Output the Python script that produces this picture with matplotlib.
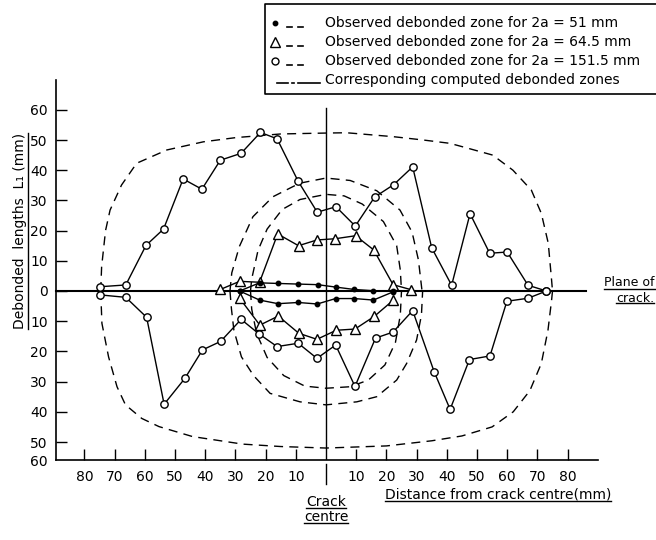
import matplotlib
matplotlib.use("Agg")
import matplotlib.pyplot as plt
from matplotlib.lines import Line2D

plt.rcParams['font.family'] = ['DejaVu Sans']

# ---------------- data (mm) ----------------
# Observed debonded zone, 2a = 51 mm (filled dots)
dot_x_up = [-28.6, -22.0, -15.9, -9.4, -2.8, 3.2, 9.4, 15.6, 22.2]
dot_y_up = [0.0, 2.7, 2.5, 2.3, 2.1, 1.3, 0.5, 0.1, 0.0]
dot_x_lo = [-28.6, -22.0, -15.9, -9.2, -2.9, 3.2, 9.4, 15.7, 22.2]
dot_y_lo = [0.0, -3.0, -4.2, -3.8, -4.3, -2.5, -2.5, -3.0, -0.3]

# Observed debonded zone, 2a = 64.5 mm (open triangles)
tri_x_up = [-35.0, -28.6, -22.0, -16.0, -9.1, -3.0, 3.0, 9.8, 15.8, 22.2, 28.3]
tri_y_up = [0.5, 3.2, 2.9, 18.9, 15.0, 16.9, 17.3, 18.3, 13.6, 2.1, 0.4]
tri_x_lo = [-28.6, -21.9, -15.8, -9.0, -3.0, 3.4, 9.6, 16.0, 22.2]
tri_y_lo = [-2.4, -11.3, -8.3, -14.0, -16.0, -13.0, -12.6, -8.4, -3.1]

# Observed debonded zone, 2a = 151.5 mm (open circles)
cir_x_up = [-75.0, -66.3, -59.6, -53.8, -47.3, -41.1, -35.0, -28.1, -21.7, -16.2, -9.2, -2.9,
            3.3, 9.7, 16.1, 22.4, 28.7, 35.0, 41.6, 47.7, 54.2, 60.0, 66.9, 73.0]
cir_y_up = [1.4, 2.0, 15.1, 20.5, 37.1, 33.7, 43.3, 45.6, 52.5, 50.4, 36.3, 26.1,
            27.9, 21.5, 31.1, 35.2, 41.1, 14.3, 1.9, 25.6, 12.5, 12.9, 1.9, 0.0]
cir_x_lo = [-74.7, -66.3, -59.4, -53.6, -46.7, -40.9, -34.9, -28.1, -22.2, -16.2, -9.2, -3.0,
            3.2, 9.6, 16.4, 22.2, 28.7, 35.8, 41.1, 47.5, 54.3, 59.9, 66.9, 73.0]
cir_y_lo = [-1.3, -2.1, -8.7, -37.5, -28.9, -19.5, -16.7, -9.4, -14.2, -18.4, -17.3, -22.3,
            -17.9, -31.6, -15.6, -13.6, -6.5, -26.7, -39.2, -22.7, -21.5, -3.4, -2.4, 0.0]

# Computed debonded zones (dashed outlines), upper and lower halves
big_x_up = [-74.6, -74.3, -73.0, -71.5, -67.7, -62.7, -52.7, -40.6, -29.8, -15.0, 0.0,
            6.8, 22.3, 32.2, 41.0, 45.8, 55.2, 61.9, 68.0, 71.3, 73.6, 74.7, 75.0]
big_y_up = [0.0, 8.0, 20.0, 26.8, 35.1, 42.3, 46.7, 49.4, 50.8, 52.0, 52.3,
            52.4, 51.1, 50.0, 48.9, 47.6, 45.0, 40.0, 33.4, 25.7, 15.8, 3.6, 0.0]
big_x_lo = [-74.6, -74.2, -72.0, -69.2, -66.4, -61.0, -55.3, -44.2, -27.6, -15.0, 0.0,
            20.0, 35.0, 45.0, 55.0, 62.0, 67.5, 71.3, 73.5, 74.7, 75.0]
big_y_lo = [0.0, -10.7, -21.8, -31.7, -37.7, -42.2, -44.9, -48.2, -50.7, -51.5, -52.0,
            -51.3, -49.6, -48.0, -45.0, -40.0, -33.0, -24.0, -13.0, -3.0, 0.0]

mid_x_up = [-31.8, -31.2, -28.7, -24.2, -17.6, -8.7, 0.0, 8.0, 16.8, 24.5, 28.5, 30.6, 31.8]
mid_y_up = [0.0, 6.0, 14.7, 24.6, 31.2, 35.7, 37.4, 36.6, 33.2, 26.8, 19.5, 10.3, 0.0]
mid_x_lo = [-31.8, -31.3, -30.5, -28.0, -24.0, -18.5, -8.6, 0.0, 10.2, 16.8, 23.4, 26.7, 30.0, 31.6, 32.0]
mid_y_lo = [0.0, -6.0, -13.0, -21.8, -28.0, -33.9, -36.7, -37.7, -36.7, -35.0, -29.5, -24.0, -16.2, -8.0, 0.0]

sml_x_up = [-25.0, -24.6, -22.5, -19.5, -14.5, -8.6, 0.0, 6.0, 12.0, 19.0, 23.4, 24.6, 25.0]
sml_y_up = [0.0, 4.0, 13.5, 20.5, 27.0, 30.3, 32.0, 31.5, 28.8, 23.0, 15.0, 7.0, 0.0]
sml_x_lo = [-25.0, -24.6, -23.0, -19.5, -14.0, -7.0, 0.0, 8.0, 14.0, 19.5, 23.0, 24.6, 25.0]
sml_y_lo = [0.0, -6.0, -14.0, -22.0, -28.0, -31.5, -32.2, -31.7, -29.5, -24.5, -17.0, -8.0, 0.0]

x_ticks = [-80, -70, -60, -50, -40, -30, -20, -10, 10, 20, 30, 40, 50, 60, 70, 80]
y_ticks = [-50, -40, -30, -20, -10, 0, 10, 20, 30, 40, 50, 60]

legend_texts = ["Observed debonded zone for 2a = 51 mm",
                "Observed debonded zone for 2a = 64.5 mm",
                "Observed debonded zone for 2a = 151.5 mm",
                "Corresponding computed debonded zones"]

# ---------------- layout ----------------
W, H = 656, 540
X0, Y0, S = 326.0, 291.0, 3.02      # pixel position of origin, px per mm
x_lo_lim = (56 - X0) / S
x_hi_lim = 90.0
y_lo_lim = -56.0
y_hi_lim = 70.0

fig = plt.figure(figsize=(W / 100, H / 100), dpi=100)
left_px = 56
right_px = X0 + x_hi_lim * S
bot_px = Y0 - y_lo_lim * S
top_px = Y0 - y_hi_lim * S
ax = fig.add_axes([left_px / W, (H - bot_px) / H, (right_px - left_px) / W, (bot_px - top_px) / H])
ax.set_xlim(x_lo_lim, x_hi_lim)
ax.set_ylim(y_lo_lim, y_hi_lim)
for s in ("top", "right"):
    ax.spines[s].set_visible(False)
for s in ("left", "bottom"):
    ax.spines[s].set_linewidth(1.2)

FS = 10
ax.set_xticks(x_ticks)
ax.set_xticklabels([str(abs(v)) for v in x_ticks], fontsize=FS)
ax.set_yticks([y_lo_lim] + y_ticks)
ax.set_yticklabels(["60"] + [str(abs(v)) for v in y_ticks], fontsize=FS)
ax.tick_params(axis="both", direction="in", length=8, width=1.0, color="black")
ax.tick_params(axis="x", pad=7)
ax.tick_params(axis="y", pad=6)
ax.yaxis.get_major_ticks()[0].tick1line.set_visible(False)

K = "black"
# reference lines
ax.plot([x_lo_lim, 86], [0, 0], color=K, lw=1.5, clip_on=False, zorder=2)
ax.plot([0, 0], [y_lo_lim, 60.7], color=K, lw=1.0, zorder=2)
ax.plot([0, 0], [y_lo_lim - 1.3, y_lo_lim - 8.0], color=K, lw=1.0, clip_on=False)

# computed zones
dash = (0, (6.5, 4.5))
for xs, ys in [(big_x_up, big_y_up), (big_x_lo, big_y_lo), (mid_x_up, mid_y_up),
               (mid_x_lo, mid_y_lo), (sml_x_up, sml_y_up), (sml_x_lo, sml_y_lo)]:
    ax.plot(xs, ys, color=K, lw=1.0, linestyle=dash, zorder=1)

# observed zones
ax.plot(cir_x_up, cir_y_up, color=K, lw=1.0, marker="o", ms=5.3, mfc="white", mec=K, mew=1.0, zorder=4)
ax.plot(cir_x_lo, cir_y_lo, color=K, lw=1.0, marker="o", ms=5.3, mfc="white", mec=K, mew=1.0, zorder=4)
ax.plot(tri_x_up, tri_y_up, color=K, lw=1.0, marker="^", ms=7, mfc="white", mec=K, mew=1.0, zorder=5)
ax.plot(tri_x_lo, tri_y_lo, color=K, lw=1.0, marker="^", ms=7, mfc="white", mec=K, mew=1.0, zorder=5)
ax.plot(dot_x_up, dot_y_up, color=K, lw=1.0, marker="o", ms=3.2, mfc=K, mec=K, zorder=6)
ax.plot(dot_x_lo, dot_y_lo, color=K, lw=1.0, marker="o", ms=3.2, mfc=K, mec=K, zorder=6)


def P(x, y):
    return x / W, 1 - y / H


def fline(xs, ys, **kw):
    fx = [x / W for x in xs]
    fy = [1 - y / H for y in ys]
    fig.add_artist(Line2D(fx, fy, color=K, **kw))


# legend box
fline([656, 265, 265, 656], [4, 4, 94, 94], lw=1.2)
ROWS = [23, 42, 61, 80]
for i, t in enumerate(legend_texts):
    fig.text(*P(325, ROWS[i]), t, fontsize=FS, va="center", ha="left")
fig.add_artist(Line2D([P(275, 0)[0]], [P(0, ROWS[0])[1]], marker="o", ms=3.2, color=K))
fig.add_artist(Line2D([P(275, 0)[0]], [P(0, ROWS[1])[1]], marker="^", ms=7, mfc="white", mec=K, color=K))
fig.add_artist(Line2D([P(275, 0)[0]], [P(0, ROWS[2])[1]], marker="o", ms=5, mfc="white", mec=K, color=K))
for r in ROWS[:3]:
    fline([287, 292], [r + 4, r + 4], lw=1.2)
    fline([298, 303], [r + 4, r + 4], lw=1.2)
fline([277, 288], [ROWS[3] + 3, ROWS[3] + 3], lw=1.2)
fline([292, 294], [ROWS[3] + 3, ROWS[3] + 3], lw=1.2)
fline([298, 320], [ROWS[3] + 3, ROWS[3] + 3], lw=1.2)

# labels
ylab = fig.text(*P(20, 231), "Debonded  lengths  L\u2081 (mm)", fontsize=FS, rotation=90,
                va="center", ha="center")
t_plane = fig.text(*P(604, 283), "Plane of", fontsize=9, va="center", ha="left")
t_crack = fig.text(*P(616, 298), "crack.", fontsize=9, va="center", ha="left")
t_c1 = fig.text(*P(326, 502), "Crack", fontsize=FS, va="center", ha="center")
t_c2 = fig.text(*P(326, 517), "centre", fontsize=FS, va="center", ha="center")
t_dist = fig.text(*P(385, 495), "Distance from crack centre(mm)", fontsize=FS, va="center", ha="left")

fig.canvas.draw()
inv = fig.transFigure.inverted()
for t in [t_plane, t_crack, t_c1, t_c2, t_dist]:
    bb = t.get_window_extent()
    (x0, y0), (x1, _) = inv.transform([(bb.x0, bb.y0 + 1), (bb.x1, bb.y0 + 1)])
    fig.add_artist(Line2D([x0, x1], [y0, y0], color=K, lw=1.0))
bb = ylab.get_window_extent()
(x0, y0), (_, y1) = inv.transform([(bb.x1 + 1, bb.y0), (bb.x1 + 1, bb.y1)])
fig.add_artist(Line2D([x0, x0], [y0, y1], color=K, lw=1.0))

fig.savefig("out.png", dpi=100)
